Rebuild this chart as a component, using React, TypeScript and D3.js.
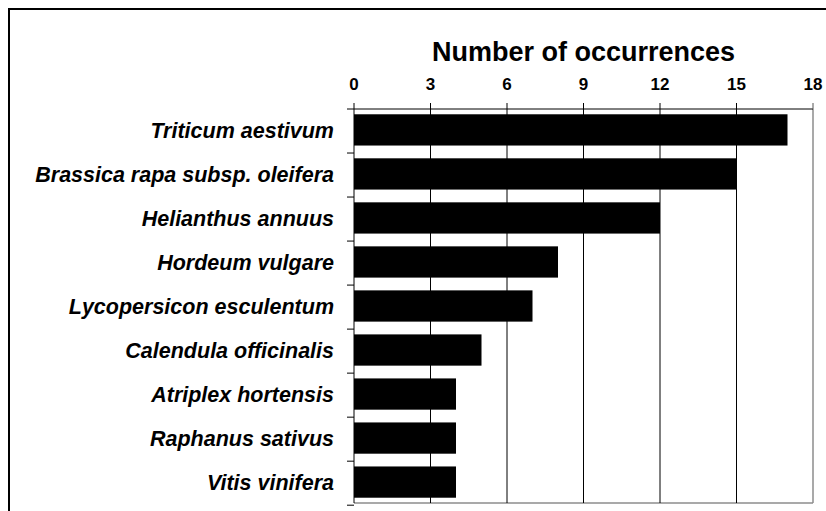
import React from "react";
import * as d3 from "d3";

const categories = [
  "Triticum aestivum",
  "Brassica rapa subsp. oleifera",
  "Helianthus annuus",
  "Hordeum vulgare",
  "Lycopersicon esculentum",
  "Calendula officinalis",
  "Atriplex hortensis",
  "Raphanus sativus",
  "Vitis vinifera",
];
const counts = [17, 15, 12, 8, 7, 5, 4, 4, 4];
const tickValues = [0, 3, 6, 9, 12, 15, 18];
const axisTitle = "Number of occurrences";

export default function App() {
  const W = 826, H = 511;
  const left = 354, right = 813, top = 109, bottom = 503;
  const x = d3.scaleLinear().domain([0, 18]).range([left, right]);
  const y = d3.scaleBand<string>().domain(categories).range([top, bottom]).paddingInner(0.29).paddingOuter(0.12);
  const step = y.step();
  const font = "'Liberation Sans', Arial, sans-serif";
  return (
    <svg width={W} height={H} style={{ position: "absolute", left: 0, top: 0 }}>
      <rect x={0} y={0} width={W} height={H} fill="#fff" />
      <rect x={9} y={9} width={830} height={520} fill="none" stroke="#000" strokeWidth={2} />
      {/* plot border right/bottom gray */}
      <line x1={right} x2={right} y1={top} y2={bottom} stroke="#8c8c8c" strokeWidth={1.5} />
      <line x1={left} x2={right} y1={bottom} y2={bottom} stroke="#8c8c8c" strokeWidth={1.5} />
      {/* gridlines */}
      {tickValues.filter(v => v > 0 && v < 18).map(v => (
        <line key={"g" + v} x1={x(v)} x2={x(v)} y1={top} y2={bottom} stroke="#000" strokeWidth={1} />
      ))}
      {/* bars */}
      {categories.map((c, i) => (
        <rect key={c} x={x(0)} y={y(c)!} width={x(counts[i]) - x(0)} height={y.bandwidth()} fill="#000" />
      ))}
      {/* axes */}
      <line x1={left} x2={right} y1={top} y2={top} stroke="#000" strokeWidth={1} />
      <line x1={left} x2={left} y1={top} y2={bottom} stroke="#000" strokeWidth={1} />
      {tickValues.map(v => (
        <g key={"t" + v}>
          <line x1={x(v)} x2={x(v)} y1={top - 6} y2={top} stroke={v === 18 ? "#555" : "#000"} strokeWidth={1} />
          <text x={x(v)} y={90} textAnchor="middle" fontFamily={font} fontWeight="bold" fontSize={17}>{v}</text>
        </g>
      ))}
      {d3.range(categories.length + 1).map(i => (
        <line key={"ct" + i} x1={left - 7} x2={left} y1={top + i * step} y2={top + i * step} stroke="#000" strokeWidth={1} />
      ))}
      {categories.map(c => (
        <text key={"l" + c} x={334} y={y(c)! + y.bandwidth() / 2} dy="0.36em" textAnchor="end"
          fontFamily={font} fontWeight="bold" fontStyle="italic" fontSize={21.5}>{c}</text>
      ))}
      <text x={(left + right) / 2} y={61} textAnchor="middle" fontFamily={font} fontWeight="bold" fontSize={27}>{axisTitle}</text>
    </svg>
  );
}
